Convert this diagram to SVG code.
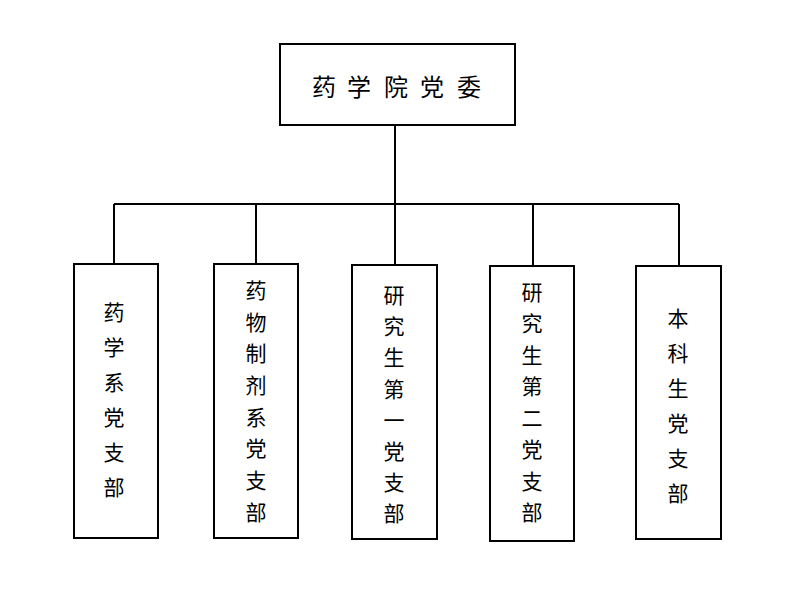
<svg xmlns="http://www.w3.org/2000/svg" width="806" height="600" viewBox="0 0 806 600">
<style>
.box{fill:#fff;stroke:#000;stroke-width:2}
.ln{fill:none;stroke:#000;stroke-width:2}
.t{font-family:"Noto Sans CJK SC","Noto Sans",sans-serif;font-size:21px;fill:#000;text-anchor:middle;dominant-baseline:central}
.tt{font-family:"Noto Sans CJK SC","Noto Sans",sans-serif;font-size:24px;fill:#000;text-anchor:middle;dominant-baseline:central}
</style>
<rect width="806" height="600" fill="#fff"/>
<g id="connectors">
<path class="ln" d="M395,125 V204 M114,204 H679 M114,204 V264 M256,204 V264 M395,204 V265 M533,204 V266 M679,204 V266"/>
</g>
<g id="n0">
<rect class="box" x="280" y="44" width="235" height="81"/>
<text class="tt" x="324 359 396 432 469" y="85">药学院党委</text>
</g>
<g id="n1">
<rect class="box" x="74" y="264" width="84" height="274"/>
<text class="t"><tspan x="114" y="311">药</tspan><tspan x="114" y="346">学</tspan><tspan x="114" y="381">系</tspan><tspan x="114" y="416">党</tspan><tspan x="114" y="451">支</tspan><tspan x="114" y="486">部</tspan></text>
</g>
<g id="n2">
<rect class="box" x="214" y="264" width="84" height="274"/>
<text class="t"><tspan x="256" y="289">药</tspan><tspan x="256" y="321">物</tspan><tspan x="256" y="352">制</tspan><tspan x="256" y="384">剂</tspan><tspan x="256" y="416">系</tspan><tspan x="256" y="447">党</tspan><tspan x="256" y="479">支</tspan><tspan x="256" y="511">部</tspan></text>
</g>
<g id="n3">
<rect class="box" x="352" y="265" width="85" height="274"/>
<text class="t"><tspan x="394" y="294">研</tspan><tspan x="394" y="325">究</tspan><tspan x="394" y="356">生</tspan><tspan x="394" y="388">第</tspan><tspan x="394" y="419">一</tspan><tspan x="394" y="450">党</tspan><tspan x="394" y="481">支</tspan><tspan x="394" y="512">部</tspan></text>
</g>
<g id="n4">
<rect class="box" x="490" y="266" width="84" height="275"/>
<text class="t"><tspan x="532" y="291">研</tspan><tspan x="532" y="322">究</tspan><tspan x="532" y="354">生</tspan><tspan x="532" y="385">第</tspan><tspan x="532" y="417">二</tspan><tspan x="532" y="448">党</tspan><tspan x="532" y="480">支</tspan><tspan x="532" y="511">部</tspan></text>
</g>
<g id="n5">
<rect class="box" x="636" y="266" width="85" height="273"/>
<text class="t"><tspan x="678" y="317">本</tspan><tspan x="678" y="352">科</tspan><tspan x="678" y="387">生</tspan><tspan x="678" y="422">党</tspan><tspan x="678" y="457">支</tspan><tspan x="678" y="492">部</tspan></text>
</g>
</svg>
